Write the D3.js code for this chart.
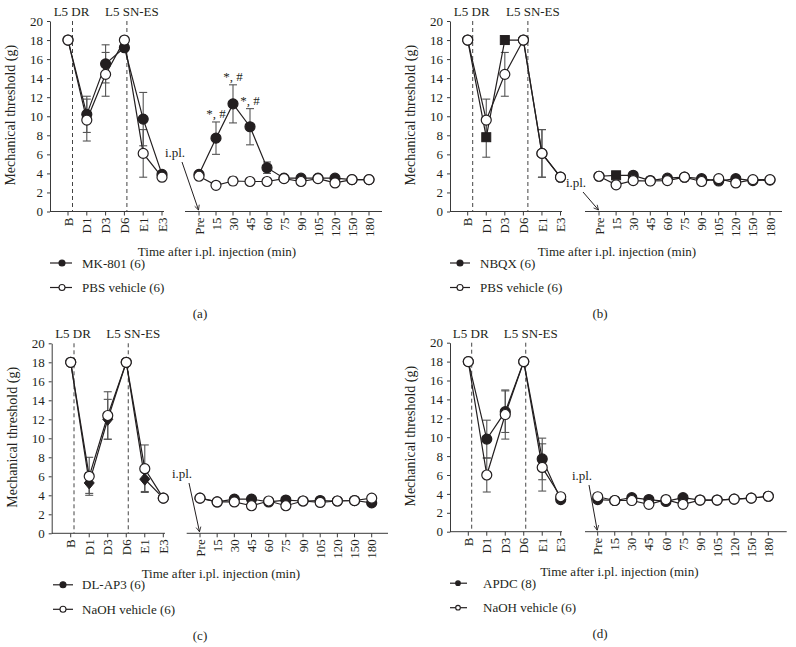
<!DOCTYPE html>
<html>
<head>
<meta charset="utf-8">
<script src="https://cdn.jsdelivr.net/npm/d3@7/dist/d3.min.js"></script>
<style>
  html, body { margin: 0; padding: 0; background: #fff; }
  svg text { font-family: "Liberation Serif", "DejaVu Serif", serif; fill: #231f20; }
</style>
</head>
<body>
<svg id="chart" width="796" height="647"></svg>
<script>
// ---------------- DATA ----------------
const leftCats  = ["B", "D1", "D3", "D6", "E1", "E3"];
const rightCats = ["Pre", "15", "30", "45", "60", "75", "90", "105", "120", "150", "180"];
const yTicks    = [0, 2, 4, 6, 8, 10, 12, 14, 16, 18, 20];

// (a) MK-801 vs PBS vehicle
const mk801Left      = [18, 10.2, 15.5, 17.2, 9.7, 3.9];
const mk801LeftErr   = [0, 1.9, 2.0, 0.3, 2.8, 0.2];
const mk801Right     = [3.9, 7.7, 11.3, 8.9, 4.6, 3.5, 3.5, 3.5, 3.5, 3.35, 3.35];
const mk801RightErr  = [0.2, 1.7, 2.0, 1.9, 0.6, 0.2, 0.2, 0.2, 0.2, 0.2, 0.2];
const pbsALeft       = [18, 9.6, 14.4, 18, 6.1, 3.6];
const pbsALeftErr    = [0, 2.2, 2.3, 0, 2.5, 0.2];
const pbsARight      = [3.7, 2.75, 3.2, 3.15, 3.15, 3.45, 3.15, 3.45, 3.0, 3.35, 3.35];
const pbsARightErr   = [0.2, 0.2, 0.4, 0.2, 0.2, 0.2, 0.3, 0.2, 0.2, 0.2, 0.2];
const sigLabels      = ["", "*, #", "*, #", "*, #", "", "", "", "", "", "", ""];

// (b) NBQX vs PBS vehicle
const nbqxLeft       = [18, 7.8, 18, 18, 6.1, 3.6];
const nbqxLeftErr    = [0, 2.1, 0, 0, 2.5, 0.2];
const nbqxRight      = [3.7, 3.8, 3.8, 3.25, 3.5, 3.6, 3.45, 3.2, 3.45, 3.25, 3.3];
const nbqxRightErr   = [0.2, 0.2, 0.2, 0.2, 0.2, 0.2, 0.2, 0.2, 0.2, 0.2, 0.2];
const pbsBLeft       = [18, 9.6, 14.4, 18, 6.1, 3.6];
const pbsBLeftErr    = [0, 2.2, 2.3, 0, 2.5, 0.2];
const pbsBRight      = [3.7, 2.8, 3.25, 3.2, 3.25, 3.6, 3.15, 3.45, 3.0, 3.35, 3.35];
const pbsBRightErr   = [0.2, 0.2, 0.3, 0.2, 0.2, 0.2, 0.2, 0.2, 0.2, 0.2, 0.2];

// (c) DL-AP3 vs NaOH vehicle
const dlap3Left      = [18, 5.3, 12.0, 18, 5.7, 3.7];
const dlap3LeftErr   = [0, 1.1, 2.1, 0, 1.3, 0.2];
const dlap3Right     = [3.7, 3.3, 3.6, 3.6, 3.3, 3.5, 3.4, 3.45, 3.4, 3.45, 3.2];
const dlap3RightErr  = [0.2, 0.2, 0.2, 0.2, 0.2, 0.2, 0.2, 0.2, 0.2, 0.2, 0.2];
const naohCLeft      = [18, 6.0, 12.4, 18, 6.8, 3.7];
const naohCLeftErr   = [0, 2.0, 2.5, 0, 2.5, 0.2];
const naohCRight     = [3.7, 3.3, 3.3, 2.9, 3.4, 2.9, 3.4, 3.25, 3.4, 3.45, 3.7];
const naohCRightErr  = [0.2, 0.2, 0.3, 0.2, 0.2, 0.2, 0.2, 0.2, 0.2, 0.2, 0.2];

// (d) APDC vs NaOH vehicle
const apdcLeft       = [18, 9.8, 12.7, 18, 7.7, 3.4];
const apdcLeftErr    = [0, 2.0, 2.2, 0, 2.2, 0.2];
const apdcRight      = [3.4, 3.3, 3.6, 3.4, 3.2, 3.6, 3.35, 3.35, 3.45, 3.55, 3.75];
const apdcRightErr   = [0.2, 0.2, 0.2, 0.2, 0.2, 0.2, 0.2, 0.2, 0.2, 0.2, 0.2];
const naohDLeft      = [18, 6.0, 12.4, 18, 6.8, 3.7];
const naohDLeftErr   = [0, 1.8, 2.6, 0, 2.5, 0.2];
const naohDRight     = [3.7, 3.3, 3.3, 2.9, 3.4, 2.9, 3.35, 3.35, 3.45, 3.55, 3.75];
const naohDRightErr  = [0.2, 0.2, 0.3, 0.2, 0.2, 0.2, 0.2, 0.2, 0.2, 0.2, 0.2];

// ---------------- LAYOUT / STYLE ----------------
const svg = d3.select("#chart");
const INK = "#231f20";
const AXIS = "#3a3a3a";
const ERR = "#555";
const FS = 13;

const defs = svg.append("defs");
defs.append("marker").attr("id", "arr").attr("viewBox", "-8 -5 10 10")
  .attr("refX", 0).attr("refY", 0).attr("markerWidth", 8).attr("markerHeight", 8)
  .attr("markerUnits", "userSpaceOnUse").attr("orient", "auto")
  .append("path").attr("d", "M-6,-3 L0,0 L-6,3").attr("fill", "none")
  .attr("stroke", INK).attr("stroke-width", 1);

const panels = [
  { tag: "(a)", lay: { yTop: 21, yBot: 211.5, yAxisX: 50, xB: 68, xE3: 162, leftEnd: 164, rStart: 185, xPre: 199, x180: 369, rEnd: 382, drOff: 4.5, snOff: 2.5, lgLine: [50, 72], lgMark: 62, lgText: 82, lgR: 3, tagX: 200, iplY: 153, iplX: 175 },
    drug: { name: "MK-801 (6)", L: mk801Left, LE: mk801LeftErr, R: mk801Right, RE: mk801RightErr, sqL: [], sqR: [], diL: [] },
    veh:  { name: "PBS vehicle (6)", L: pbsALeft, LE: pbsALeftErr, R: pbsARight, RE: pbsARightErr },
    sig: sigLabels },
  { tag: "(b)", lay: { yTop: 21, yBot: 211.5, yAxisX: 450, xB: 467.7, xE3: 560.5, leftEnd: 562, rStart: 585, xPre: 599, x180: 770, rEnd: 782, drOff: 5, snOff: 4.5, lgLine: [450, 470], lgMark: 460, lgText: 480, lgR: 3, tagX: 600, iplY: 183, iplX: 576 },
    drug: { name: "NBQX (6)", L: nbqxLeft, LE: nbqxLeftErr, R: nbqxRight, RE: nbqxRightErr, sqL: [1, 2], sqR: [1], diL: [] },
    veh:  { name: "PBS vehicle (6)", L: pbsBLeft, LE: pbsBLeftErr, R: pbsBRight, RE: pbsBRightErr },
    sig: null },
  { tag: "(c)", lay: { yTop: 343.3, yBot: 533.3, yAxisX: 51.7, xB: 70.7, xE3: 163.3, leftEnd: 165, rStart: 186.7, xPre: 200, x180: 371.7, rEnd: 388, drOff: 3.3, snOff: 2, lgLine: [53, 73], lgMark: 63, lgText: 82, lgR: 3, tagX: 200, iplY: 474, iplX: 182 },
    drug: { name: "DL-AP3 (6)", L: dlap3Left, LE: dlap3LeftErr, R: dlap3Right, RE: dlap3RightErr, sqL: [], sqR: [], diL: [1, 2, 4] },
    veh:  { name: "NaOH vehicle (6)", L: naohCLeft, LE: naohCLeftErr, R: naohCRight, RE: naohCRightErr },
    sig: null },
  { tag: "(d)", lay: { yTop: 342.7, yBot: 531.7, yAxisX: 450, xB: 468.3, xE3: 560.7, leftEnd: 562, rStart: 585, xPre: 597.7, x180: 768.3, rEnd: 786.7, drOff: 3.4, snOff: 2, lgLine: [450, 467], lgMark: 458, lgText: 483, lgR: 2.3, tagX: 600, iplY: 476, iplX: 582 },
    drug: { name: "APDC (8)", L: apdcLeft, LE: apdcLeftErr, R: apdcRight, RE: apdcRightErr, sqL: [], sqR: [], diL: [] },
    veh:  { name: "NaOH vehicle (6)", L: naohDLeft, LE: naohDLeftErr, R: naohDRight, RE: naohDRightErr },
    sig: null }
];

function drawPanel(p) {
  const L = p.lay;
  const g = svg.append("g");
  const y = d3.scaleLinear().domain([0, 20]).range([L.yBot, L.yTop]);
  const xL = d3.scalePoint().domain(leftCats).range([L.xB, L.xE3]);
  const xR = d3.scalePoint().domain(rightCats).range([L.xPre, L.x180]);

  // y axis
  const ya = g.append("g").attr("transform", `translate(${L.yAxisX},0)`)
    .call(d3.axisLeft(y).tickValues(yTicks).tickSize(3).tickSizeOuter(0).tickPadding(4));
  ya.attr("font-family", null);
  ya.select(".domain").attr("stroke", AXIS).attr("stroke-width", 1);
  ya.selectAll(".tick line").attr("stroke", AXIS);
  ya.selectAll(".tick text").attr("font-size", FS).attr("fill", INK);

  // x axes (baseline lines)
  g.append("line").attr("x1", L.yAxisX).attr("x2", L.leftEnd).attr("y1", L.yBot).attr("y2", L.yBot)
    .attr("stroke", AXIS).attr("stroke-width", 1);
  g.append("line").attr("x1", L.rStart).attr("x2", L.rEnd).attr("y1", L.yBot).attr("y2", L.yBot)
    .attr("stroke", AXIS).attr("stroke-width", 1);

  function xTicks(scale, cats) {
    cats.forEach(c => {
      g.append("line").attr("x1", scale(c)).attr("x2", scale(c)).attr("y1", L.yBot).attr("y2", L.yBot + 4)
        .attr("stroke", AXIS);
      g.append("text").attr("transform", `translate(${scale(c)},${L.yBot + 6}) rotate(-90)`)
        .attr("text-anchor", "end").attr("dy", "0.35em").attr("font-size", FS).text(c);
    });
  }
  xTicks(xL, leftCats);
  xTicks(xR, rightCats);

  // dashed event lines
  const drX = xL("B") + L.drOff, snX = xL("D6") + L.snOff;
  [drX, snX].forEach(x => g.append("line").attr("x1", x).attr("x2", x).attr("y1", L.yTop).attr("y2", L.yBot)
    .attr("stroke", "#444").attr("stroke-width", 1).attr("stroke-dasharray", "4,3"));
  g.append("text").attr("x", drX - 1).attr("y", L.yTop - 5).attr("text-anchor", "middle").attr("font-size", FS).text("L5 DR");
  g.append("text").attr("x", snX + 5).attr("y", L.yTop - 5).attr("text-anchor", "middle").attr("font-size", FS).text("L5 SN-ES");

  // axis titles
  g.append("text").attr("transform", `translate(${L.yAxisX - 35},${(L.yTop + L.yBot) / 2 - 1}) rotate(-90)`)
    .attr("text-anchor", "middle").attr("font-size", 14).text("Mechanical threshold (g)");
  g.append("text").attr("x", (L.yAxisX + L.rEnd) / 2 + 1).attr("y", L.yBot + 44.5)
    .attr("text-anchor", "middle").attr("font-size", FS).text("Time after i.pl. injection (min)");

  // i.pl. arrow
  g.append("text").attr("x", L.iplX).attr("y", L.iplY + 4).attr("text-anchor", "middle").attr("font-size", FS).text("i.pl.");
  g.append("line").attr("x1", L.iplX + 7).attr("y1", L.iplY + 9).attr("x2", xR("Pre") - 0.5).attr("y2", L.yBot - 1.5)
    .attr("stroke", INK).attr("stroke-width", 1).attr("marker-end", "url(#arr)");

  // series
  const series = [p.drug, p.veh];
  const errLayer = g.append("g"), lineLayer = g.append("g"), markLayer = g.append("g");
  const line = d3.line();
  series.forEach(s => {
    [[xL, leftCats, s.L, s.LE], [xR, rightCats, s.R, s.RE]].forEach(([sc, cats, vals, errs]) => {
      cats.forEach((c, i) => {
        if (!errs[i]) return;
        const x = sc(c), y1 = y(vals[i] + errs[i]), y0 = y(vals[i] - errs[i]);
        errLayer.append("line").attr("x1", x).attr("x2", x).attr("y1", y0).attr("y2", y1).attr("stroke", ERR).attr("stroke-width", 1.1);
        [y0, y1].forEach(yy => errLayer.append("line").attr("x1", x - 4).attr("x2", x + 4).attr("y1", yy).attr("y2", yy)
          .attr("stroke", ERR).attr("stroke-width", 1.1));
      });
      lineLayer.append("path").attr("d", line(cats.map((c, i) => [sc(c), y(vals[i])])))
        .attr("fill", "none").attr("stroke", INK).attr("stroke-width", 1.2);
    });
  });

  function marker(layer, x, yy, filled, shape) {
    const fill = filled ? INK : "#fff";
    if (shape === "sq") {
      layer.append("rect").attr("x", x - 4.5).attr("y", yy - 4.5).attr("width", 9).attr("height", 9)
        .attr("fill", fill).attr("stroke", INK).attr("stroke-width", 1);
    } else if (shape === "di") {
      layer.append("path").attr("d", `M${x},${yy - 6} L${x + 5},${yy} L${x},${yy + 6} L${x - 5},${yy} Z`)
        .attr("fill", fill).attr("stroke", INK).attr("stroke-width", 1);
    } else {
      layer.append("circle").attr("cx", x).attr("cy", yy).attr("r", 5)
        .attr("fill", fill).attr("stroke", INK).attr("stroke-width", 1.2);
    }
  }
  // drug (filled) first, vehicle (open) on top
  leftCats.forEach((c, i) => marker(markLayer, xL(c), y(p.drug.L[i]), true,
    p.drug.sqL.includes(i) ? "sq" : p.drug.diL.includes(i) ? "di" : "c"));
  rightCats.forEach((c, i) => marker(markLayer, xR(c), y(p.drug.R[i]), true, p.drug.sqR.includes(i) ? "sq" : "c"));
  leftCats.forEach((c, i) => marker(markLayer, xL(c), y(p.veh.L[i]), false, "c"));
  rightCats.forEach((c, i) => marker(markLayer, xR(c), y(p.veh.R[i]), false, "c"));

  // significance labels
  if (p.sig) {
    rightCats.forEach((c, i) => {
      if (!p.sig[i]) return;
      g.append("text").attr("x", xR(c)).attr("y", y(p.drug.R[i] + p.drug.RE[i]) - 4)
        .attr("text-anchor", "middle").attr("font-size", FS).text(p.sig[i]);
    });
  }

  // legend
  series.forEach((s, k) => {
    const yy = L.yBot + 51.5 + k * 24.5;
    g.append("line").attr("x1", L.lgLine[0]).attr("x2", L.lgLine[1]).attr("y1", yy).attr("y2", yy)
      .attr("stroke", INK).attr("stroke-width", 1.2);
    g.append("circle").attr("cx", L.lgMark).attr("cy", yy).attr("r", L.lgR)
      .attr("fill", k === 0 ? INK : "#fff").attr("stroke", INK).attr("stroke-width", 1.1);
    g.append("text").attr("x", L.lgText).attr("y", yy + 4.5).attr("font-size", FS).text(s.name);
  });

  // panel tag
  g.append("text").attr("x", L.tagX).attr("y", L.yBot + 106.5).attr("text-anchor", "middle").attr("font-size", FS).text(p.tag);
}

panels.forEach(drawPanel);
</script>
</body>
</html>
